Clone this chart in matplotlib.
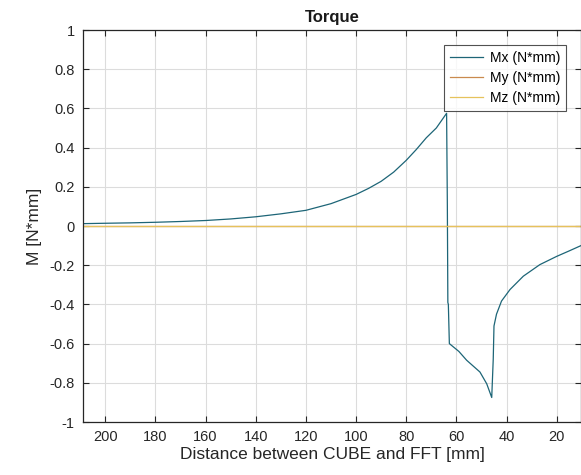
import matplotlib.pyplot as plt

# distance between CUBE and FFT [mm] and torque Mx [N*mm]
dist = [209, 200, 190, 180, 170, 160, 150, 140, 130, 120, 110, 100, 95, 90, 85, 80,
        76, 72, 68, 63.9, 63.6, 63.4, 63.2, 62.8, 59, 55.9, 50.6, 47.9, 45.9,
        45.3, 45.0, 44.0, 42.0, 38.6, 33.3, 26.7, 20, 15, 10.3]
mx = [0.012, 0.014, 0.016, 0.019, 0.023, 0.028, 0.036, 0.047, 0.062, 0.08, 0.114, 0.161,
      0.192, 0.228, 0.275, 0.335, 0.39, 0.45, 0.50, 0.575, 0.107, -0.39, -0.40, -0.60,
      -0.64, -0.685, -0.745, -0.805, -0.875, -0.68, -0.51, -0.45, -0.383, -0.324, -0.256,
      -0.197, -0.155, -0.127, -0.1]
my = [0.0 for _ in dist]
mz = [0.0 for _ in dist]

plt.rcParams['font.family'] = ['Liberation Sans', 'DejaVu Sans']

fig = plt.figure(figsize=(5.81, 4.75), dpi=100)
ax = fig.add_axes([83 / 581, 1 - 422 / 475, 498 / 581, 392 / 475])

ax.plot(dist, mx, color='#1d6577', lw=0.9, label='Mx (N*mm)')
ax.plot(dist, my, color='#c98a4e', lw=0.9, label='My (N*mm)')
ax.plot(dist, mz, color='#e6c25c', lw=0.9, label='Mz (N*mm)')

ax.set_xlim(208.9, 10.3)
ax.set_ylim(-1, 1)
ax.set_xticks([200, 180, 160, 140, 120, 100, 80, 60, 40, 20])
ax.set_yticks([-1, -0.8, -0.6, -0.4, -0.2, 0, 0.2, 0.4, 0.6, 0.8, 1])
ax.set_yticklabels(['-1', '-0.8', '-0.6', '-0.4', '-0.2', '0', '0.2', '0.4', '0.6', '0.8', '1'])
ax.grid(True, color='#dcdcdc', lw=0.8)
ax.set_axisbelow(True)
ax.tick_params(direction='in', top=True, right=True, length=4, width=0.8,
               labelsize=10.5, colors='#262626', pad=6)
for s in ax.spines.values():
    s.set_color('#262626')
    s.set_linewidth(0.9)

ax.set_title('Torque', fontsize=12, fontweight='bold', color='#1a1a1a', pad=6)
ax.set_xlabel('Distance between CUBE and FFT [mm]', fontsize=12.5, color='#262626', labelpad=2)
ax.set_ylabel('M [N*mm]', fontsize=12.5, color='#262626', labelpad=5)

leg = ax.legend(loc='upper right', bbox_to_anchor=((566 - 83) / 498, 1 - 15 / 392),
                fontsize=10, frameon=True, fancybox=False, borderaxespad=0,
                handlelength=2.4, handletextpad=0.5, labelspacing=0.45, borderpad=0.4)
leg.get_frame().set_edgecolor('#262626')
leg.get_frame().set_linewidth(0.8)

fig.savefig('out.png', dpi=100)
